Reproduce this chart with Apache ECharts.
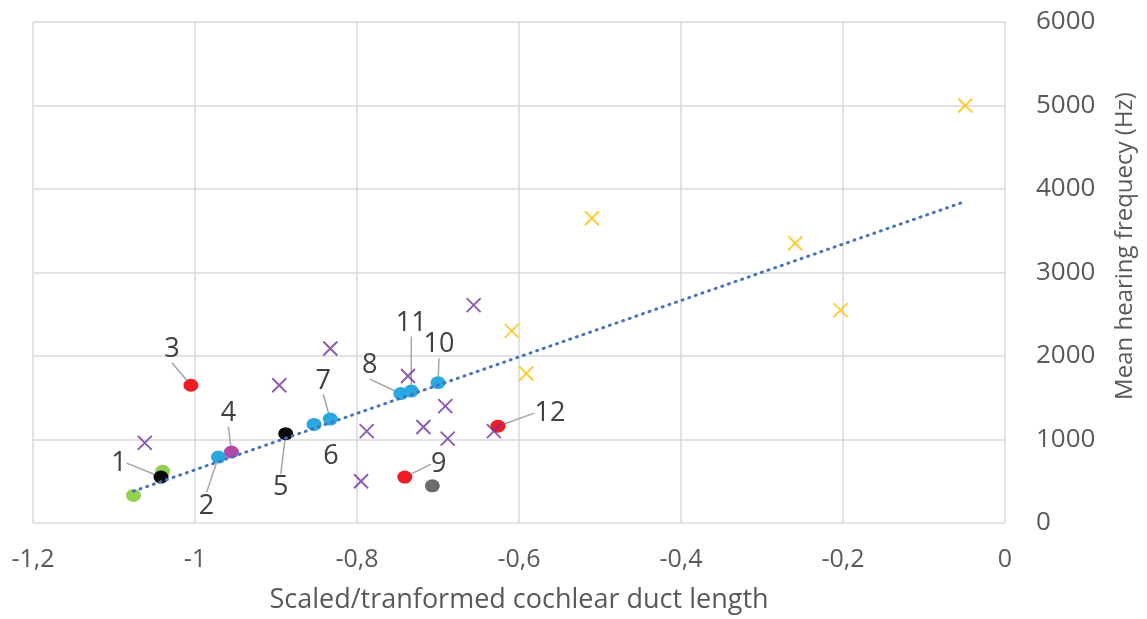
<!DOCTYPE html>
<html>
<head>
<meta charset="utf-8">
<script src="https://cdn.jsdelivr.net/npm/echarts@6/dist/echarts.min.js"></script>
<style>
  html, body { margin: 0; padding: 0; background: #ffffff; }
  #chart { width: 1147px; height: 619px; }
</style>
</head>
<body>
<div id="chart"></div>
<script>
// Axis ticks
const xTickLabels = ['-1,2', '-1', '-0,8', '-0,6', '-0,4', '-0,2', '0'];
const yTickLabels = ['0', '1000', '2000', '3000', '4000', '5000', '6000'];

// Points: [duct length, mean hearing frequency, label]
const greenCircles = [[-1.076, 330], [-1.040, 620]];
const blueCircles = [[-0.971, 790, '2'], [-0.853, 1180, '6'], [-0.833, 1245, '7'],
                     [-0.746, 1550, '8'], [-0.733, 1580, '11'], [-0.700, 1680, '10']];
const magentaCircles = [[-0.955, 850, '4']];
const blackCircles = [[-1.042, 550, '1'], [-0.888, 1070, '5']];
const redCircles = [[-1.005, 1650, '3'], [-0.741, 550, '9'], [-0.626, 1160, '12']];
const grayCircles = [[-0.707, 445]];
const purpleCrosses = [[-1.062, 960], [-0.896, 1650], [-0.833, 2090], [-0.788, 1100],
                       [-0.795, 500], [-0.737, 1760], [-0.718, 1150], [-0.691, 1400],
                       [-0.688, 1010], [-0.631, 1100], [-0.656, 2610]];
const orangeCrosses = [[-0.609, 2300], [-0.591, 1790], [-0.510, 3650], [-0.259, 3350],
                       [-0.203, 2550], [-0.049, 5000]];
// Linear trend line end points
const trendLine = [[-1.076, 380], [-0.054, 3834]];

// Label placement relative to the point (px)
const labelOffsets = {
  '1': [-42, -14], '2': [-12, 49], '3': [-19, -36], '4': [-3, -39],
  '5': [-5, 54], '6': [17, 32], '7': [-7, -38], '8': [-31, -28],
  '9': [34, -13], '10': [1, -38], '11': [0, -68], '12': [52, -13]
};
const noLeader = ['6'];

const FONT = '"Open Sans", "DejaVu Sans", sans-serif';
const GRID_COLOR = '#D9D9D9';
const TEXT_COLOR = '#595959';

function toItems(arr) {
  return arr.map(p => {
    const item = { value: [p[0], p[1]] };
    if (p[2] !== undefined) {
      item.name = p[2];
      item.label = { show: true };
      item.labelLine = { show: noLeader.indexOf(p[2]) < 0 };
    }
    return item;
  });
}

function circleSeries(arr, color) {
  return {
    type: 'scatter',
    data: toItems(arr),
    symbol: 'circle',
    symbolSize: [15, 13],
    itemStyle: { color: color, opacity: 1 },
    label: {
      show: false,
      position: 'inside',
      formatter: '{b}',
      fontFamily: FONT,
      fontSize: 27,
      color: '#404040'
    },
    labelLine: { show: true, lineStyle: { color: '#A6A6A6', width: 1.5 } },
    labelLayout: function (params) {
      const off = labelOffsets[params.text];
      return off ? { dx: off[0], dy: off[1] } : {};
    },
    emphasis: { disabled: true },
    z: 3
  };
}

function crossSeries(arr, color) {
  return {
    type: 'scatter',
    data: arr,
    symbol: 'path://M0,0L10,10M0,10L10,0',
    symbolSize: 14,
    itemStyle: { color: 'rgba(0,0,0,0)', borderColor: color, borderWidth: 1.9 },
    emphasis: { disabled: true },
    z: 3
  };
}

const chart = echarts.init(document.getElementById('chart'), null, { renderer: 'canvas' });

chart.setOption({
  animation: false,
  backgroundColor: '#ffffff',
  grid: { left: 33, right: 142, top: 22, bottom: 92, containLabel: false },
  xAxis: {
    type: 'value',
    min: -1.2,
    max: 0,
    interval: 0.2,
    axisLine: { show: false },
    axisTick: { show: false },
    splitLine: { show: true, lineStyle: { color: GRID_COLOR, width: 1.5 } },
    axisLabel: {
      margin: 24,
      fontFamily: FONT,
      fontSize: 25,
      color: TEXT_COLOR,
      formatter: v => xTickLabels[Math.round((v + 1.2) / 0.2)]
    },
    name: 'Scaled/tranformed cochlear duct length',
    nameLocation: 'middle',
    nameGap: 64,
    nameTextStyle: { fontFamily: FONT, fontSize: 27, color: TEXT_COLOR }
  },
  yAxis: {
    type: 'value',
    position: 'right',
    min: 0,
    max: 6000,
    interval: 1000,
    axisLine: { show: false },
    axisTick: { show: false },
    splitLine: { show: true, lineStyle: { color: GRID_COLOR, width: 1.5 } },
    axisLabel: {
      margin: 31,
      fontFamily: FONT,
      fontSize: 26,
      color: TEXT_COLOR,
      formatter: v => yTickLabels[Math.round(v / 1000)]
    }
  },
  graphic: [{
    type: 'text',
    x: 1125,
    y: 246,
    rotation: Math.PI / 2,
    style: {
      text: 'Mean hearing frequecy (Hz)',
      font: '24px ' + FONT,
      fill: TEXT_COLOR,
      align: 'center',
      verticalAlign: 'middle',
      textAlign: 'center',
      textVerticalAlign: 'middle'
    }
  }],
  series: [
    circleSeries(greenCircles, '#92D050'),
    circleSeries(blueCircles, '#2AA8E0'),
    circleSeries(magentaCircles, '#B24AA8'),
    circleSeries(blackCircles, '#0A0A0A'),
    circleSeries(redCircles, '#EE1C24'),
    circleSeries(grayCircles, '#6B6B6B'),
    crossSeries(purpleCrosses, '#7030A0'),
    crossSeries(orangeCrosses, '#FFC000'),
    {
      type: 'line',
      data: trendLine,
      symbol: 'none',
      lineStyle: { color: '#4472C4', width: 3, type: [1, 6], cap: 'round' },
      emphasis: { disabled: true },
      z: 4
    }
  ]
});
</script>
</body>
</html>
